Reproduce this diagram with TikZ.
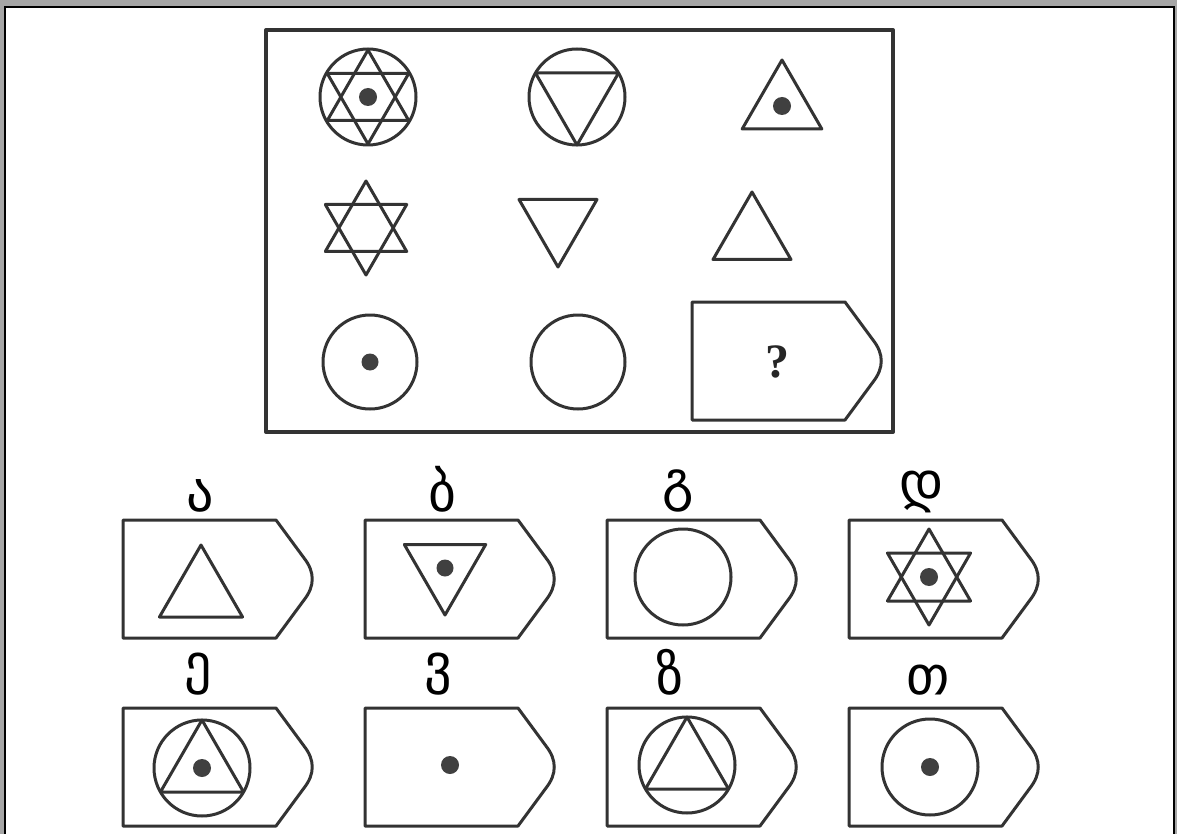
\documentclass[tikz,border=0pt]{standalone}
\usepackage{fontspec}
\newfontfamily\geofont{DejaVu Sans}
\newfontfamily\qfont{Liberation Serif}

\tikzset{
  fig/.style={draw=black!80, line width=1.5pt, line join=round},
  dot/.style={fill=black!75},
  letter/.style={anchor=south, inner sep=0pt, font=\geofont\fontsize{27}{27}\selectfont},
}
% card with a pointed right end, #1 = its top left corner
\newcommand{\card}[1]{\draw[fig] (#1) -- ++(153,0) -- ++(28,38) .. controls +(11,14) and +(11,-14) .. ++(0,42) -- ++(-28,38) -- ++(-153,0) -- cycle;}
% triangles and star round a centre #1 with radius #2
\newcommand{\uptri}[2]{\draw[fig] (#1) +(-90:#2) -- +(30:#2) -- +(150:#2) -- cycle;}
\newcommand{\downtri}[2]{\draw[fig] (#1) +(90:#2) -- +(210:#2) -- +(330:#2) -- cycle;}
\newcommand{\sixstar}[2]{\uptri{#1}{#2}\downtri{#1}{#2}}

\begin{document}
\begin{tikzpicture}[x=0.5pt,y=-0.5pt]
  \useasboundingbox (0,0) rectangle (1177,834);
  \clip (0,0) rectangle (1177,834);
  \fill[black!35] (0,0) rectangle (1177,834);
  \draw[fill=white, line width=1.2pt] (5,7) rectangle (1174,850);

  % the puzzle
  \draw[fig, line width=2pt] (266,30) rectangle (893,432);
  \coordinate (p11) at (368,97);
  \coordinate (p12) at (577,97);
  \coordinate (p13) at (782,106);
  \coordinate (p21) at (366,228);
  \coordinate (p22) at (558,222);
  \coordinate (p23) at (752,237);
  \coordinate (p31) at (370,362);
  \coordinate (p32) at (578,362);

  \draw[fig] (p11) circle (48); \sixstar{p11}{47} \fill[dot] (p11) circle (9);
  \draw[fig] (p12) circle (48); \downtri{p12}{48}
  \uptri{p13}{46} \fill[dot] (p13) circle (9);
  \sixstar{p21}{47}
  \downtri{p22}{45}
  \uptri{p23}{45}
  \draw[fig] (p31) circle (47); \fill[dot] (p31) circle (8.5);
  \draw[fig] (p32) circle (47);
  \card{692,302}
  \node[font=\qfont\bfseries\fontsize{24}{24}\selectfont, text=black!85] (ask) at (777,362) {?};

  % the answers
  \node[letter] (optA) at (200,513) {ა};
  \node[letter] (optB) at (442,513) {ბ};
  \node[letter] (optC) at (678,513) {გ};
  \node[letter] (optD) at (922,513) {დ};
  \node[letter] (optE) at (198,696) {ე};
  \node[letter] (optF) at (438,696) {ვ};
  \node[letter] (optG) at (670,696) {ზ};
  \node[letter] (optH) at (928,696) {თ};

  \card{123,520} \card{365,520} \card{607,520} \card{849,520}
  \card{123,708} \card{365,708} \card{607,708} \card{849,708}

  \coordinate (a) at (201,593);
  \coordinate (b) at (445,568);
  \coordinate (c) at (683,577);
  \coordinate (d) at (929,577);
  \coordinate (e) at (202,768);
  \coordinate (f) at (450,765);
  \coordinate (g) at (687,765);
  \coordinate (h) at (930,767);

  \uptri{a}{48}
  \downtri{b}{47} \fill[dot] (b) circle (8.5);
  \draw[fig] (c) circle (48);
  \sixstar{d}{48} \fill[dot] (d) circle (9);
  \draw[fig] (e) circle (48); \uptri{e}{48} \fill[dot] (e) circle (9);
  \fill[dot] (f) circle (9);
  \draw[fig] (g) circle (48); \uptri{g}{48}
  \draw[fig] (h) circle (48); \fill[dot] (h) circle (9);
\end{tikzpicture}
\end{document}
